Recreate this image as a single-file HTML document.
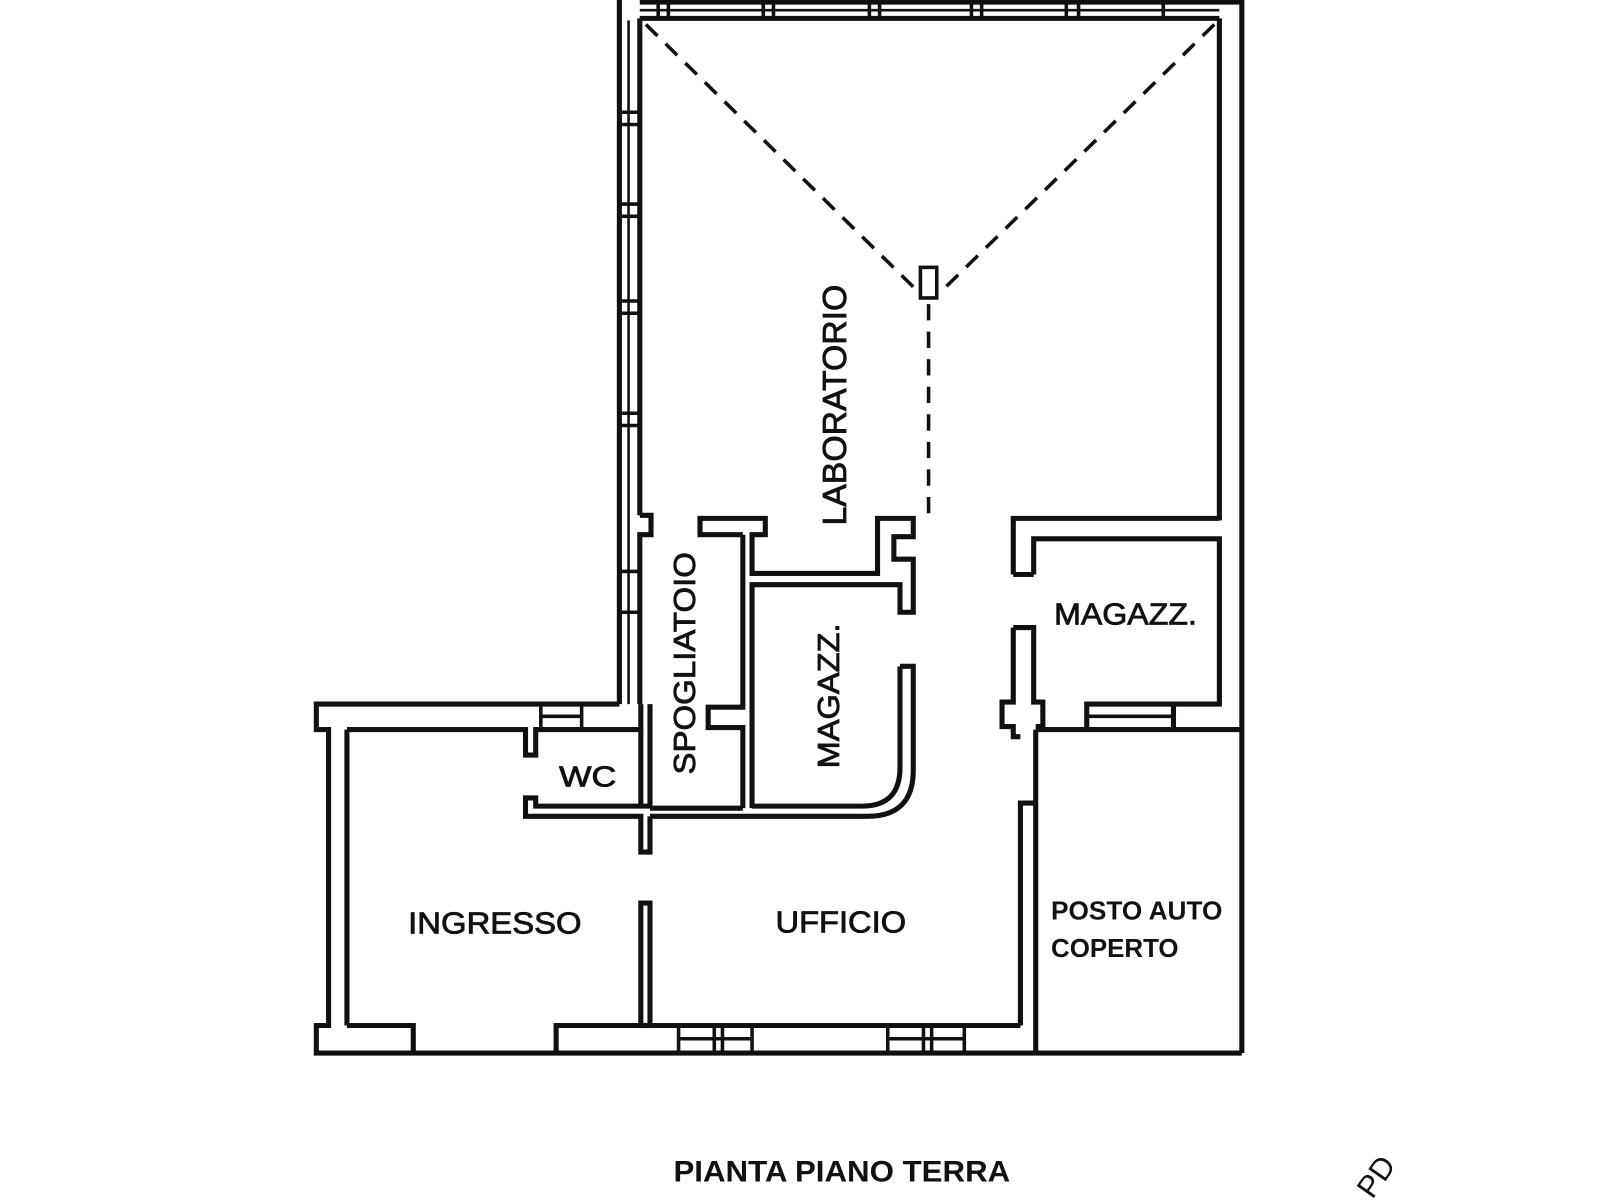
<!DOCTYPE html>
<html><head><meta charset="utf-8"><style>
html,body{margin:0;padding:0;background:#fff;}
svg{display:block}
text{font-family:"Liberation Sans",Arial,sans-serif;fill:#111;}
.l{stroke:#111;stroke-width:0.8;}
</style></head><body>
<svg width="1600" height="1200" viewBox="0 0 1568 1176" preserveAspectRatio="none" xmlns="http://www.w3.org/2000/svg">
<g fill="none" stroke="#111" stroke-width="5" stroke-linejoin="miter">
<line x1="607" y1="0" x2="607" y2="690"/>
<line x1="627" y1="18" x2="627" y2="505"/>
<line x1="616" y1="20" x2="616" y2="690" stroke-width="2.5"/>
<g stroke-width="3.5">
<line x1="607" y1="110" x2="627" y2="110"/><line x1="607" y1="122" x2="627" y2="122"/>
<line x1="607" y1="200" x2="627" y2="200"/><line x1="607" y1="212" x2="627" y2="212"/>
<line x1="607" y1="295" x2="627" y2="295"/><line x1="607" y1="307" x2="627" y2="307"/>
<line x1="607" y1="405" x2="627" y2="405"/><line x1="607" y1="417" x2="627" y2="417"/>
<line x1="607" y1="560" x2="627" y2="560"/><line x1="607" y1="600" x2="627" y2="600"/>
</g>
<line x1="627" y1="2" x2="1217" y2="2"/>
<line x1="627" y1="18" x2="1195" y2="18"/>
<line x1="627" y1="10" x2="1195" y2="10" stroke-width="2.5"/>
<g stroke-width="3.5">
<line x1="645" y1="0" x2="645" y2="18"/><line x1="655" y1="0" x2="655" y2="18"/>
<line x1="748" y1="0" x2="748" y2="18"/><line x1="758" y1="0" x2="758" y2="18"/>
<line x1="852" y1="0" x2="852" y2="18"/><line x1="862" y1="0" x2="862" y2="18"/>
<line x1="952" y1="0" x2="952" y2="18"/><line x1="962" y1="0" x2="962" y2="18"/>
<line x1="1045" y1="0" x2="1045" y2="18"/><line x1="1057" y1="0" x2="1057" y2="18"/>
<line x1="1140" y1="0" x2="1140" y2="18"/>
</g>
<line x1="1195" y1="18" x2="1195" y2="510"/>
<line x1="1217" y1="0" x2="1217" y2="1032"/>
<polyline points="627,505 638,505 638,524 627,524 627,690"/>
<polyline points="728,524 686,524 686,508 750,508 750,524 737,524 737,562 860,562 860,508 895,508 895,526 876,526 876,548 895,548 895,600 882,600 882,573 737,573 737,792"/>
<polyline points="728,524 728,693 694,693 694,713 728,713 728,792"/>
<path d="M882,653 L895,653 L895,755 Q895,800 850,800 L637,800"/>
<path d="M882,653 L882,752 Q882,790 845,790 L737,790"/>
<line x1="637" y1="792" x2="728" y2="792"/>
<polyline points="607,690 310,690 310,715 322,715 322,1005 310,1005 310,1032 1217,1032"/>
<line x1="340" y1="715" x2="340" y2="1005"/>
<polyline points="340,715 515,715 515,740 525,740 525,715 628,715 628,690"/>
<line x1="530" y1="690" x2="530" y2="715" stroke-width="3.5"/>
<line x1="570" y1="690" x2="570" y2="715" stroke-width="3.5"/>
<line x1="530" y1="702" x2="570" y2="702" stroke-width="3.5"/>
<polyline points="628,715 628,790 637,790 637,715 637,690"/>
<polyline points="637,800 637,835 628,835 628,800 515,800 515,782 525,782 525,790 628,790"/>
<rect x="628" y="885" width="9" height="120"/>
<polyline points="340,1005 405,1005 405,1032"/>
<polyline points="545,1032 545,1005 628,1005"/>
<line x1="637" y1="1005" x2="1000" y2="1005"/>
<g stroke-width="3.5">
<line x1="665" y1="1005" x2="665" y2="1032"/><line x1="700" y1="1005" x2="700" y2="1032"/><line x1="708" y1="1005" x2="708" y2="1032"/><line x1="737" y1="1005" x2="737" y2="1032"/>
<line x1="665" y1="1018" x2="737" y2="1018"/>
<line x1="870" y1="1005" x2="870" y2="1032"/><line x1="905" y1="1005" x2="905" y2="1032"/><line x1="913" y1="1005" x2="913" y2="1032"/><line x1="945" y1="1005" x2="945" y2="1032"/>
<line x1="870" y1="1018" x2="945" y2="1018"/>
</g>
<polyline points="1000,1005 1000,787 1015,787"/>
<line x1="1015" y1="715" x2="1015" y2="1032"/>
<line x1="1015" y1="715" x2="1217" y2="715"/>
<polyline points="993,563 993,508 1195,508"/>
<polyline points="1013,563 1013,528 1195,528 1195,690 1150,690"/>
<line x1="993" y1="563" x2="1013" y2="563"/>
<polyline points="993,615 1013,615 1013,688 1022,688 1022,712 1015,712"/>
<polyline points="993,615 993,688 982,688 982,712 993,712 993,722 1000,722"/>
<polyline points="1065,715 1065,690 1150,690 1150,715"/>
<line x1="1065" y1="702" x2="1150" y2="702" stroke-width="3.5"/>
<g stroke-width="3.5" stroke-dasharray="16,11">
<line x1="633" y1="24" x2="900" y2="286"/>
<line x1="1190" y1="24" x2="922" y2="286"/>
<line x1="910" y1="298" x2="910" y2="512"/>
</g>
<rect x="902" y="262" width="16" height="30" stroke-width="3.5"/>
</g>
<text class="l" transform="translate(829,397) rotate(-90)" font-size="33" text-anchor="middle" textLength="236" lengthAdjust="spacingAndGlyphs">LABORATORIO</text>
<text class="l" transform="translate(681,650) rotate(-90)" font-size="30" text-anchor="middle" textLength="218" lengthAdjust="spacingAndGlyphs">SPOGLIATOIO</text>
<text class="l" transform="translate(822,682) rotate(-90)" font-size="30" text-anchor="middle" textLength="142" lengthAdjust="spacingAndGlyphs">MAGAZZ.</text>
<text class="l" x="1033" y="612" font-size="30" textLength="140" lengthAdjust="spacingAndGlyphs">MAGAZZ.</text>
<text class="l" x="548" y="771" font-size="28" textLength="56" lengthAdjust="spacingAndGlyphs">WC</text>
<text class="l" x="400" y="915" font-size="30" textLength="170" lengthAdjust="spacingAndGlyphs">INGRESSO</text>
<text class="l" x="760" y="914" font-size="30" textLength="128" lengthAdjust="spacingAndGlyphs">UFFICIO</text>
<text x="1030" y="901" font-size="25" font-weight="bold" textLength="168" lengthAdjust="spacingAndGlyphs">POSTO AUTO</text>
<text x="1030" y="938" font-size="25" font-weight="bold" textLength="125" lengthAdjust="spacingAndGlyphs">COPERTO</text>
<text x="660" y="1158" font-size="29" font-weight="bold" textLength="330" lengthAdjust="spacingAndGlyphs">PIANTA PIANO TERRA</text>
<text transform="translate(1345,1176) rotate(-55)" font-size="30">PD</text>
</svg>
</body></html>
